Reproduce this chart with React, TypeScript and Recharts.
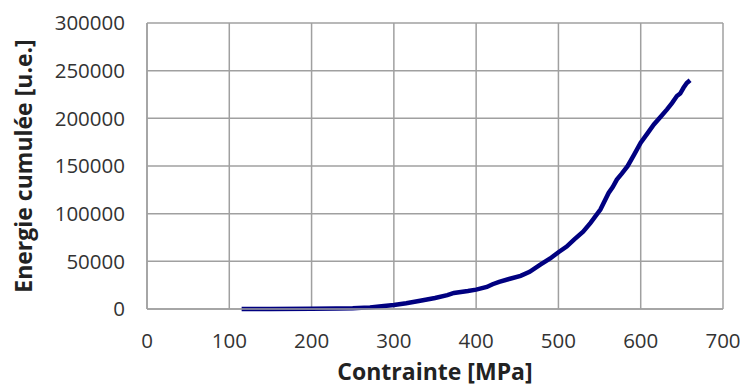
import { CartesianGrid, Line, LineChart, XAxis, YAxis } from "recharts";

// Contrainte [MPa]
const stress = [
  115, 150, 200, 230, 250, 271, 285, 300, 315, 332, 350, 365, 373, 390, 400,
  413, 420, 428, 440, 454, 465, 478, 490, 500, 510, 519, 530, 539, 551, 561,
  566, 571, 577, 584, 592, 600, 608, 616, 624, 632, 638, 644, 648, 652, 656, 660,
];

// Energie cumulée [u.e.]
const energy = [
  0, 0, 200, 400, 800, 1700, 2800, 4200, 6000, 8700, 11500, 14500, 16800, 18800,
  20300, 23100, 26000, 28500, 31500, 34800, 39000, 46500, 53000, 59500, 65500,
  72800, 81000, 90300, 104300, 121800, 128000, 135800, 142000, 149800, 162000,
  174400, 184000, 193600, 201500, 209400, 216000, 223400, 226000, 232000, 237000,
  240000,
];

const xTicks = [0, 100, 200, 300, 400, 500, 600, 700];
const yTicks = [0, 50000, 100000, 150000, 200000, 250000, 300000];

const data = stress.map((s, i) => ({ stress: s, energy: energy[i] }));

const FONT = "'Open Sans', 'DejaVu Sans', sans-serif";
const GRID = "#a0a0a0";

export default function App() {
  return (
    <div style={{ position: "absolute", left: 0, top: 0, background: "#fff" }}>
      <LineChart
        width={740}
        height={389}
        data={data}
        margin={{ top: 23, right: 17, bottom: 0, left: 0 }}
      >
        <CartesianGrid stroke={GRID} strokeWidth={1.5} />
        <XAxis
          dataKey="stress"
          type="number"
          domain={[0, 700]}
          ticks={xTicks}
          height={80}
          tickLine={false}
          tickSize={0}
          tickMargin={24}
          axisLine={{ stroke: GRID, strokeWidth: 1.5 }}
          tick={{ fontSize: 20.5, fill: "#333", fontFamily: FONT }}
          label={{
            value: "Contrainte [MPa]",
            position: "insideBottom",
            offset: 9,
            style: { fontSize: 23, fontWeight: 700, fill: "#222", fontFamily: FONT },
          }}
        />
        <YAxis
          type="number"
          domain={[0, 300000]}
          ticks={yTicks}
          width={147}
          tickLine={false}
          tickSize={0}
          tickMargin={22}
          axisLine={{ stroke: GRID, strokeWidth: 1.5 }}
          tick={{ fontSize: 20.5, fill: "#333", fontFamily: FONT }}
          label={{
            value: "Energie cumulée [u.e.]",
            angle: -90,
            position: "insideLeft",
            offset: 0,
            dx: 24,
            style: { fontSize: 23, fontWeight: 700, fill: "#222", fontFamily: FONT, textAnchor: "middle" },
          }}
        />
        <Line
          type="linear"
          dataKey="energy"
          stroke="#000080"
          strokeWidth={4.5}
          dot={false}
          isAnimationActive={false}
        />
      </LineChart>
    </div>
  );
}
